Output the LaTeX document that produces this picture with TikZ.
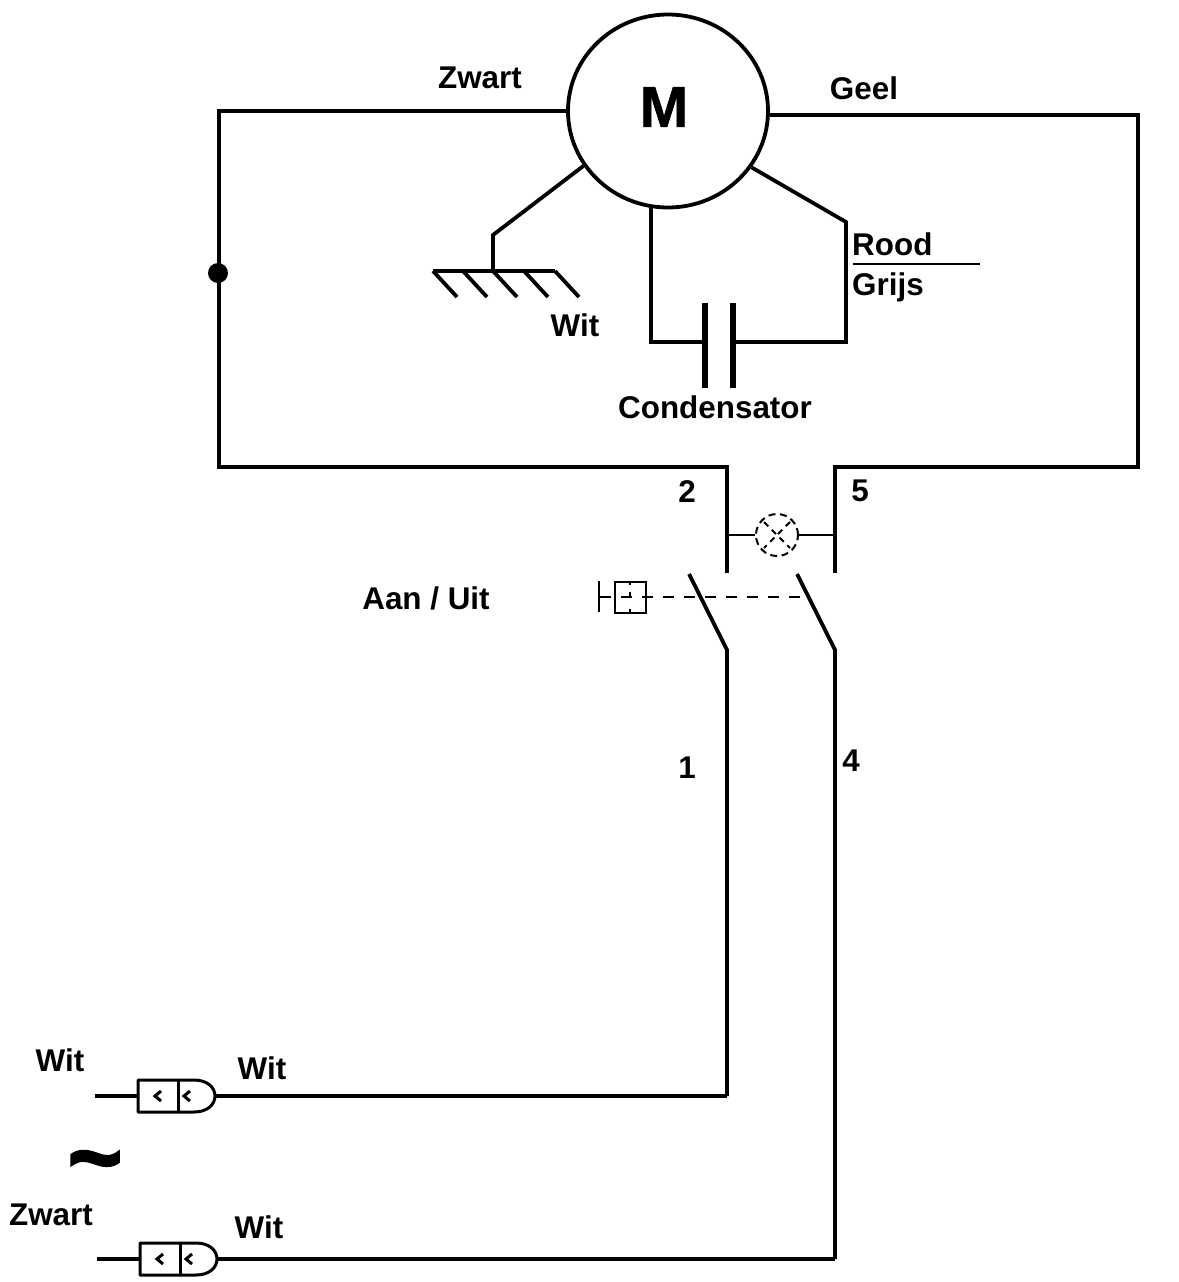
\documentclass[tikz,border=0pt]{standalone}
\usepackage{fontspec}
\usetikzlibrary{shapes.geometric}
\setmainfont{Liberation Sans}
\newfontfamily\heavyfont[FakeBold = 1]{Liberation Sans Bold}
\newfontfamily\tildefont[FakeBold = 3]{Liberation Sans Bold}
\tikzset{
    wire/.style = {line width = 3.8pt},
    thinwire/.style = {line width = 1.2pt},
    label/.style = {anchor = base, font = \fontsize{31.4}{31}\bfseries\selectfont, inner sep = 0},
    labelw/.style = {label, anchor = base west},
    plug/.pic = {
        \coordinate (-in) at (0, 16);
        \coordinate (-out) at (77, 16);
        \draw [line width = 3pt, line join = round] (0, 0) -- (56, 0)
            .. controls (70, 0) and (77, 8) .. (77, 16)
            .. controls (77, 24) and (70, 32) .. (56, 32) -- (0, 32) -- cycle;
        \draw [line width = 3pt] (40, 0) -- (40, 32);
        \draw [line width = 3pt] (23, 11) -- (17, 16) -- (23, 21);
        \draw [line width = 3pt] (52, 11) -- (46, 16) -- (52, 21);
    }
}
\begin{document}
\begin{tikzpicture}[x = 1pt, y = -1pt]
        \useasboundingbox (0, 0) rectangle (1178, 1282);
        % motor
        \node (M) [draw, wire, ellipse, minimum width = 200pt, minimum height = 193pt, inner sep = 0] at (668, 111) {};
        \node (tm) [inner sep = 0, font = \fontsize{58}{58}\heavyfont] at (664, 107) {M};
        \coordinate (tl) at (219, 111);
        \coordinate (bl) at (219, 467);
        \coordinate (s2) at (727, 467);
        \coordinate (s2e) at (727, 573);
        \coordinate (tr) at (1138, 115);
        \coordinate (br) at (1138, 467);
        \coordinate (s5) at (835, 467);
        \coordinate (s5e) at (835, 573);
        \draw [wire] (M.west) -- (tl) -- (bl) -- (s2) -- (s2e);
        \draw [wire] (M.-2 |- tr) -- (tr) -- (br) -- (s5) -- (s5e);
        \fill (218, 273) circle (10);
        % earth
        \coordinate (g1) at (493, 235);
        \coordinate (g2) at (493, 271);
        \coordinate (gl) at (433, 271);
        \coordinate (gr) at (555, 271);
        \draw [wire] (M.213) -- (g1) -- (g2);
        \draw [wire] (gl) -- (gr);
        \foreach \x in {433, 463, 493, 524, 555}
            \draw [wire] (\x, 271) -- (\x + 24, 297);
        % capacitor
        \coordinate (c1) at (651, 342);
        \coordinate (c2) at (705, 342);
        \coordinate (c3) at (733, 342);
        \coordinate (c4) at (846, 342);
        \coordinate (c5) at (846, 222);
        \draw [wire] (c1 |- M.260) -- (c1) -- (c2);
        \draw [wire] (M.-34) -- (c5) -- (c4) -- (c3);
        \draw [line width = 6pt] (705, 303) -- (705, 388);
        \draw [line width = 6pt] (733, 303) -- (733, 388);
        \draw [thinwire] (853, 264) -- (980, 264);
        % lamp and switch
        \node (lamp) [draw, circle, line width = 2pt, dash pattern = on 7pt off 4.5pt, minimum size = 42pt, inner sep = 0] at (777, 535) {};
        \draw [thinwire] (s2 |- lamp) -- (lamp.west);
        \draw [thinwire] (lamp.east) -- (s5 |- lamp);
        \draw [line width = 2pt, dash pattern = on 6pt off 5pt] (764, 522) -- (790, 548);
        \draw [line width = 2pt, dash pattern = on 6pt off 5pt] (790, 522) -- (764, 548);
        \coordinate (k1) at (689, 574);
        \coordinate (k1e) at (727, 650);
        \coordinate (k2) at (797, 574);
        \coordinate (k2e) at (835, 650);
        \coordinate (w1) at (727, 1096);
        \coordinate (w2) at (835, 1259);
        \draw [wire] (k1) -- (k1e) -- (w1);
        \draw [wire] (k2) -- (k2e) -- (w2);
        \node (knop) [draw, line width = 2pt, minimum size = 31pt, inner sep = 0] at (630, 597) {};
        \draw [line width = 2pt] (599, 581) -- (599, 612);
        \draw [line width = 1.5pt, dash pattern = on 11pt off 10pt] (600, 597) -- (806, 597);
        \draw [line width = 1.8pt] (knop.north) -- +(0, 4);
        \draw [line width = 1.8pt] (knop.south) -- +(0, -5);
        \draw [line width = 1.8pt] (630, 592) -- (630, 597);
        % plugs
        \pic (p1) at (138, 1080) {plug};
        \pic (p2) at (140, 1243) {plug};
        \coordinate (i1) at (95, 1096);
        \coordinate (i2) at (97, 1259);
        \draw [wire] (i1) -- (p1-in);
        \draw [wire] (p1-out) -- (w1);
        \draw [wire] (i2) -- (p2-in);
        \draw [wire] (p2-out) -- (w2);
        % labels
        \node (tzwart) [label] at (480, 88) {Zwart};
        \node (tgeel) [label] at (864, 99) {Geel};
        \node (trood) [labelw] at (852, 255) {Rood};
        \node (tgrijs) [labelw] at (852, 295) {Grijs};
        \node (twit) [label] at (575, 336) {Wit};
        \node (tcond) [label] at (715, 418) {Condensator};
        \node (t2) [label] at (687, 502) {2};
        \node (t5) [label] at (860, 501) {5};
        \node (taan) [label] at (426, 609) {Aan / Uit};
        \node (t1) [label] at (687, 778) {1};
        \node (t4) [label] at (851, 771) {4};
        \node (twit1) [label] at (60, 1071) {Wit};
        \node (twit2) [label] at (262, 1079) {Wit};
        \node (tzwart2) [label] at (51, 1225) {Zwart};
        \node (twit3) [label] at (259, 1238) {Wit};
        \node (ttilde) [inner sep = 0, font = \fontsize{92}{92}\tildefont] at (95, 1170) {\textasciitilde};
    \end{tikzpicture}
\end{document}
